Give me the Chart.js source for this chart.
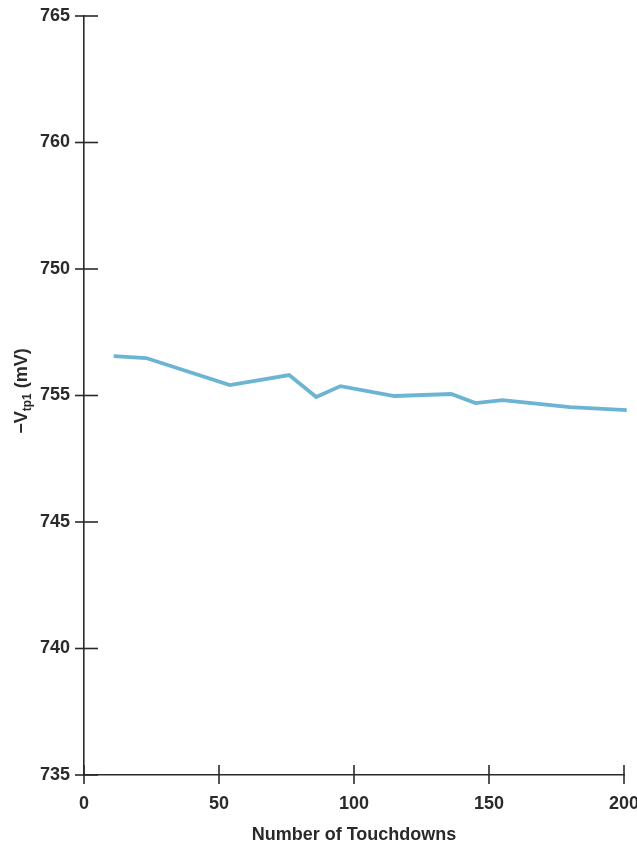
<!DOCTYPE html>
<html>
<body style="margin:0;background:#fff">
<canvas id="myChart" width="637" height="848"></canvas>

<script src="https://cdn.jsdelivr.net/npm/chart.js"></script>
<script>
// values
let touchdowns = [11, 23, 54, 76, 86, 95, 115, 136, 145, 155, 180, 201];
let vtp1 = [751.56, 751.48, 750.41, 750.81, 749.94, 750.37, 749.98, 750.06, 749.70, 749.82, 749.54, 749.42];
let xTicks = [0, 50, 100, 150, 200];
let yTickLabels = ['735', '740', '745', '755', '750', '760', '765']; // printed this way in the original

let ink = '#2a2a2a';
let font = "'Liberation Sans', Arial, sans-serif";

// tick marks that cross the axis + axis titles
const axisExtras = {
  id: 'axisExtras',
  afterDraw(chart) {
    let c = chart.ctx, xs = chart.scales.x, ys = chart.scales.y;
    c.save();
    c.strokeStyle = ink;
    c.lineWidth = 1.6;
    ys.ticks.forEach(t => {
      let py = ys.getPixelForValue(t.value);
      c.beginPath(); c.moveTo(xs.left - 9, py); c.lineTo(xs.left + 14, py); c.stroke();
    });
    xTicks.forEach(v => {
      let px = xs.getPixelForValue(v);
      c.beginPath(); c.moveTo(px, ys.bottom - 10); c.lineTo(px, ys.bottom + 9); c.stroke();
    });

    c.fillStyle = ink;
    c.textBaseline = 'alphabetic';
    // x title
    c.font = 'bold 18px ' + font;
    c.textAlign = 'center';
    c.fillText('Number of Touchdowns', (xs.left + xs.right) / 2, 840);

    // y title with subscript, rotated
    let big = 'bold 18px ' + font, small = 'bold 12px ' + font;
    c.font = big; let w1 = c.measureText('\u2212V').width;
    c.font = small; let w2 = c.measureText('tp1').width;
    c.font = big; let w3 = c.measureText(' (mV)').width;
    let total = w1 + w2 + w3;
    c.translate(27, 391);
    c.rotate(-Math.PI / 2);
    c.textAlign = 'left';
    let sx = -total / 2;
    c.font = big; c.fillText('\u2212V', sx, 0);
    c.font = small; c.fillText('tp1', sx + w1, 4);
    c.font = big; c.fillText(' (mV)', sx + w1 + w2, 0);
    c.restore();
  }
};

let ctx = document.getElementById('myChart').getContext('2d');
let chart = new Chart(ctx, {
  type: 'line',
  data: {
    datasets: [{
      data: touchdowns.map((t, i) => ({ x: t, y: vtp1[i] })),
      borderColor: 'rgb(108, 180, 212)',
      borderWidth: 3.8,
      pointRadius: 0,
      tension: 0,
      clip: false
    }]
  },
  options: {
    responsive: false,
    animation: false,
    layout: { padding: { top: 16, right: 13, left: 0, bottom: 0 } },
    plugins: { legend: { display: false }, tooltip: { enabled: false } },
    scales: {
      x: {
        type: 'linear',
        min: 0,
        max: 200,
        afterFit: s => { s.height = 73; s.paddingLeft = 0; s.paddingRight = 0; },
        afterBuildTicks: s => { s.ticks = xTicks.map(v => ({ value: v })); },
        grid: { display: false, drawTicks: false },
        border: { color: ink, width: 1.6 },
        ticks: {
          padding: 18,
          maxRotation: 0,
          color: ink,
          font: { family: font, size: 18, weight: 'bold' }
        }
      },
      y: {
        type: 'linear',
        min: 735,
        max: 765,
        afterFit: s => { s.width = 84; s.paddingTop = 0; s.paddingBottom = 0; },
        grid: { display: false, drawTicks: false },
        border: { color: ink, width: 1.6 },
        ticks: {
          stepSize: 5,
          padding: 14,
          color: ink,
          font: { family: font, size: 18, weight: 'bold' },
          callback: v => yTickLabels[Math.round((v - 735) / 5)]
        }
      }
    }
  },
  plugins: [axisExtras]
});
</script>

</body>
</html>
